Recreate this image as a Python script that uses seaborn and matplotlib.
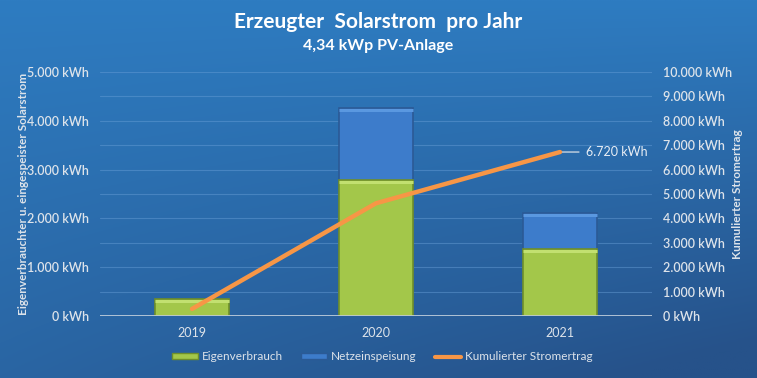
import numpy as np
import pandas as pd
import matplotlib
matplotlib.use("Agg")
import matplotlib.pyplot as plt
import seaborn as sns
from matplotlib.ticker import FuncFormatter, MultipleLocator
from matplotlib.lines import Line2D
from matplotlib.patches import Patch, Rectangle
from matplotlib.transforms import offset_copy

# ---- data ----
years = ["2019", "2020", "2021"]
eigenverbrauch = [350, 2790, 1370]
netzeinspeisung = [0, 1470, 740]
kumuliert = [290, 4620, 6720]

sns.set_theme(style="white")
plt.rcParams["font.family"] = ["Lato", "DejaVu Sans"]

W, H, DPI = 757, 378, 100
fig = plt.figure(figsize=(W / DPI, H / DPI), dpi=DPI)

# background gradient
bg = fig.add_axes([0, 0, 1, 1], zorder=-10)
ny, nx = 200, 400
yy, xx = np.mgrid[0:1:ny * 1j, 0:1:nx * 1j]
t = np.clip(0.55 * yy + 0.55 * yy * xx, 0, 1)
c0 = np.array([46, 124, 193]) / 255
c1 = np.array([38, 82, 138]) / 255
img = c0[None, None, :] * (1 - t[..., None]) + c1[None, None, :] * t[..., None]
bg.imshow(img, extent=[0, 1, 0, 1], aspect="auto", origin="upper")
bg.set_axis_off()

L, R = 100 / W, 652 / W
B, T = 1 - 316 / H, 1 - 72 / H
ax = fig.add_axes([L, B, R - L, T - B])
ax.patch.set_alpha(0)

df = pd.DataFrame({"Jahr": years, "Eigenverbrauch": eigenverbrauch,
                   "Netzeinspeisung": netzeinspeisung})
df["Gesamt"] = df["Eigenverbrauch"] + df["Netzeinspeisung"]

green = "#a3c74a"
blue = "#3d7ccb"
orange = "#f79646"
sns.barplot(data=df, x="Jahr", y="Gesamt", color=blue, width=0.40, ax=ax,
            saturation=1, edgecolor="#2b5a96", linewidth=1.2, zorder=2)
n_blue = len(ax.patches)
sns.barplot(data=df, x="Jahr", y="Eigenverbrauch", color=green, width=0.40, ax=ax,
            saturation=1, edgecolor="#6f8f2a", linewidth=1.2, zorder=3)

# bevel highlight on top of each bar segment
for i, p in enumerate(list(ax.patches)):
    h = p.get_height()
    if h <= 0:
        continue
    light = "#5a98e0" if i < n_blue else "#c2e070"
    hl = Rectangle((p.get_x(), p.get_y() + h), p.get_width(), 0,
                   facecolor="none", edgecolor=light, lw=2.2,
                   zorder=p.get_zorder() + 0.1,
                   transform=offset_copy(ax.transData, fig=fig, y=-2, units="dots"))
    ax.add_patch(hl)

ax.set_xlim(-0.5, 2.5)
ax.set_ylim(0, 5000)
ax.yaxis.set_major_locator(MultipleLocator(1000))
fmt = FuncFormatter(lambda v, p: f"{int(v):,} kWh".replace(",", "."))
ax.yaxis.set_major_formatter(fmt)
for v in np.arange(500, 5001, 500):
    ax.axhline(v, color="#6aa0d8", lw=0.8, alpha=0.45, zorder=1)
ax.axhline(0, color="#c8d4e0", lw=1.2, zorder=4)
for s in ax.spines.values():
    s.set_visible(False)
tc = "#dde3ea"
ax.tick_params(axis="y", length=0, pad=8, labelcolor=tc, labelsize=9)
ax.tick_params(axis="x", length=0, pad=8, labelcolor=tc, labelsize=9)
for lbl in ax.get_yticklabels():
    lbl.set_fontweight("semibold")
ax.set_xlabel("")
ax.set_ylabel("Eigenverbrauchter u. eingespeister Solarstrom", color=tc,
              fontsize=8.5, fontweight="bold")
ax.yaxis.set_label_coords(-0.128, 0.5)

ax2 = ax.twinx()
ax2.patch.set_alpha(0)
sns.lineplot(x=[0, 1, 2], y=kumuliert, ax=ax2, color=orange, lw=3.2,
             zorder=5, legend=False)
ax2.set_ylim(0, 10000)
ax2.yaxis.set_major_locator(MultipleLocator(1000))
ax2.yaxis.set_major_formatter(fmt)
ax2.tick_params(axis="y", length=0, pad=8, labelcolor=tc, labelsize=9)
for lbl in ax2.get_yticklabels():
    lbl.set_fontweight("semibold")
for s in ax2.spines.values():
    s.set_visible(False)
ax2.set_ylabel("Kumulierter Stromertrag", color=tc, fontsize=8.5,
               fontweight="bold")
ax2.yaxis.set_label_coords(1.145, 0.5)

# annotation for last value
ax2.annotate(f"{kumuliert[-1]:,} kWh".replace(",", "."), xy=(2, kumuliert[-1]),
             xytext=(19, 0), textcoords="offset points", color="#e8eef5",
             fontsize=9, va="center", ha="left",
             arrowprops=dict(arrowstyle="-", color="#c8d4e0", lw=1,
                             shrinkA=3, shrinkB=0))

# titles
fig.text(0.5, 1 - 22 / H, "Erzeugter  Solarstrom  pro Jahr", ha="center",
         va="center", color="white", fontsize=15, fontweight="bold")
fig.text(0.5, 1 - 46 / H, "4,34 kWp PV-Anlage", ha="center", va="center",
         color="white", fontsize=11.5, fontweight="bold")

handles = [Patch(facecolor=green, edgecolor="#6f8f2a"),
           Patch(facecolor=blue, edgecolor="#2b5a96"),
           Line2D([0], [0], color=orange, lw=3)]
leg = fig.legend(handles, ["Eigenverbrauch", "Netzeinspeisung",
                           "Kumulierter Stromertrag"],
                 loc="center", bbox_to_anchor=(0.505, 1 - 357 / H), ncol=3,
                 frameon=False, fontsize=8.5, labelcolor=tc,
                 handlelength=2.2, handleheight=0.45, columnspacing=1.6,
                 handletextpad=0.3)

fig.savefig("out.png", dpi=DPI)
